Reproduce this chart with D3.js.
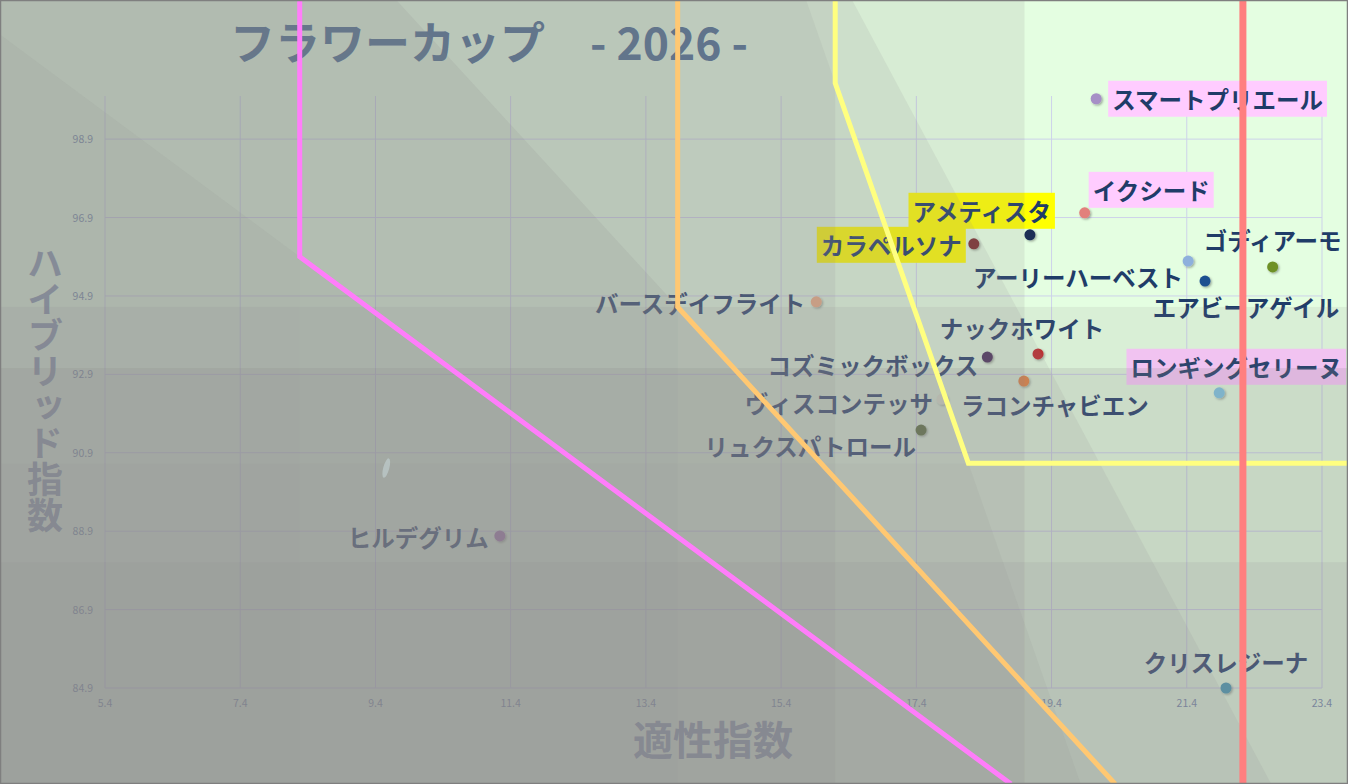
<html>
<head>
<meta charset="utf-8">
<script src="https://d3js.org/d3.v7.min.js"></script>
<style>
  body { margin: 0; background: #fff; }
  text { font-family: "Noto Sans CJK JP", "Noto Sans", sans-serif; }
</style>
</head>
<body>
<svg id="chart" width="1348" height="784"></svg>
<script>
// ---- data ----
const names = ["スマートプリエール","イクシード","アメティスタ","カラペルソナ","アーリーハーベスト",
  "エアビーアゲイル","ゴディアーモ","バースデイフライト","ナックホワイト","コズミックボックス",
  "ラコンチャビエン","ロンギングセリーヌ","ヴィスコンテッサ","リュクスパトロール","ヒルデグリム","クリスレジーナ"];
const tekisei = [20.06,19.89,19.08,18.25,21.42,21.67,22.67,15.92,19.20,18.45,18.99,21.88,17.78,17.47,11.24,21.98];
const hybrid  = [99.93,97.02,96.46,96.23,95.79,95.28,95.64,94.75,93.42,93.34,92.73,92.43,92.27,91.48,88.78,84.90];
const pointColors = ["#a68fc6","#e2807c","#1a2d55","#7b2a2a","#8eb0dc","#1f5090","#6e9125","#f4b183",
  "#c02a2a","#442c56","#f08030","#7cc7e3","#e6f0d6","#4f6c2f","#a070b0","#3f98b1"];
// label placement
const labelPos = ["right","aboveRight","aboveLeft","left","belowLeft","below","above","left",
  "above","left","below","above","left","belowLeft","left","above"];
const labelBg = ["#ffccff","#ffccff","#ffff00","#ffff00",null,null,null,null,null,null,null,"#ffccff",null,null,null,null];

const xTicks = [5.4,7.4,9.4,11.4,13.4,15.4,17.4,19.4,21.4,23.4];
const yTicks = [84.9,86.9,88.9,90.9,92.9,94.9,96.9,98.9];

// boundary lines (適性, ハイブリッド)
const pinkLine   = [[8.28,103],[8.28,95.9],[18.8,82.45]];
const orangeLine = [[13.87,103],[13.87,94.62],[20.34,82.45]];
const yellowLine = [[16.2,103],[16.2,100.33],[18.17,90.63],[25,90.63]];
const redLine    = [[22.23,103],[22.23,82]];

// grey veil bands
const vBands = [19.0,16.2,13.87,8.28];
const vAlpha = [0.15,0.12,0.06,0.04];
const hBands = [94.62,93.06,90.63,88.11];
const hAlpha = [0.12,0.18,0.06,0.12];
const diagBands = [[[16.45,102.45],[22.65,82.45]], [[13.87,94.62],[20.34,82.45]], [[16.2,100.33],[18.17,90.63]], [[8.28,95.9],[18.8,82.45]]];
const diagAlpha = [0.12,0.14,0.1,0.1];

const strayMark = [[9.56,90.51]];

// ---- chart ----
const W = 1348, H = 784;
const svg = d3.select("#chart");
const x = d3.scaleLinear().domain([5.4,23.4]).range([105,1322]);
const y = d3.scaleLinear().domain([84.9,100.0]).range([688,96]);

svg.append("rect").attr("width",W).attr("height",H).attr("fill","#e4fee1");

// title
svg.append("text").attr("x",230).attr("y",60).attr("font-size",45).attr("font-weight","bold")
  .attr("fill","#456a90").attr("textLength",315).attr("lengthAdjust","spacingAndGlyphs").text("フラワーカップ");
svg.append("text").attr("x",590).attr("y",60).attr("font-size",45).attr("font-weight","bold")
  .attr("fill","#456a90").attr("textLength",158).attr("lengthAdjust","spacingAndGlyphs").text("- 2026 -");

// grid
const grid = svg.append("g").attr("stroke","#cdd2ea").attr("stroke-width",1);
grid.selectAll(".vx").data(xTicks).join("line")
  .attr("x1",d=>x(d)).attr("x2",d=>x(d)).attr("y1",y(100.0)).attr("y2",y(84.9));
grid.selectAll(".hy").data(yTicks).join("line")
  .attr("x1",x(5.4)).attr("x2",x(23.4)).attr("y1",d=>y(d)).attr("y2",d=>y(d));

// tick labels
svg.append("g").selectAll("text").data(xTicks).join("text")
  .attr("x",d=>x(d)).attr("y",y(84.9)+19).attr("text-anchor","middle")
  .attr("font-size",10.5).attr("fill","#7088aa").text(d=>d.toFixed(1));
svg.append("g").selectAll("text").data(yTicks).join("text")
  .attr("x",x(5.4)-12).attr("y",d=>y(d)+4).attr("text-anchor","end")
  .attr("font-size",10.5).attr("fill","#7088aa").text(d=>d.toFixed(1));

// axis titles
svg.append("text").attr("x",713).attr("y",755).attr("text-anchor","middle")
  .attr("font-size",40).attr("font-weight","bold").attr("fill","#8497b0").text("適性指数");
svg.append("text").attr("x",45).attr("y",245).attr("writing-mode","tb")
  .attr("font-size",36).attr("font-weight","bold").attr("fill","#8497b0")
  .style("text-orientation","upright").text("ハイブリッド指数");

// points
const pts = names.map((n,i)=>({name:n, tx:tekisei[i], hy:hybrid[i], c:pointColors[i], pos:labelPos[i], bg:labelBg[i]}));
const defs = svg.append("defs");
const f = defs.append("filter").attr("id","sh").attr("x","-50%").attr("y","-50%").attr("width","200%").attr("height","200%");
f.append("feDropShadow").attr("dx",1.2).attr("dy",1.2).attr("stdDeviation",1).attr("flood-color","#000").attr("flood-opacity",0.35);

svg.append("g").selectAll("circle").data(pts).join("circle")
  .attr("cx",d=>x(d.tx)).attr("cy",d=>y(d.hy)).attr("r",5.5)
  .attr("fill",d=>d.c).attr("filter","url(#sh)");

// labels
const off = {
  right:      {dx:16, dy:0,  a:"start"},
  aboveRight: {dx:8,  dy:-23,a:"start"},
  aboveLeft:  {dx:21, dy:-24,a:"end"},
  left:       {dx:-11,dy:1,  a:"end"},
  belowLeft:  {dx:-5, dy:16, a:"end"},
  below:      {dx:41, dy:26, a:"middle"},
  above:      {dx:0,  dy:-26,a:"middle"}
};
const lblG = svg.append("g");
pts.forEach((d,i)=>{
  let o = off[d.pos];
  let dx = o.dx, dy = o.dy;
  if (d.name==="ナックホワイト") dx = -16;
  if (d.name==="ラコンチャビエン") { dx = 31; dy = 24; }
  if (d.name==="ロンギングセリーヌ") dx = 17;
  if (d.name==="コズミックボックス") { dx = -9; dy = 8; }
  if (d.name==="ヴィスコンテッサ") { dx = -9; dy = 4; }
  if (d.name==="カラペルソナ") { dx = -12; dy = 1; }
  if (d.name==="ゴディアーモ") dy = -27;
  const t = lblG.append("text")
    .attr("x",x(d.tx)+dx).attr("y",y(d.hy)+dy)
    .attr("dominant-baseline","central").attr("text-anchor",o.a)
    .attr("font-size",23.5).attr("font-weight","bold").attr("fill","#1f3c68").text(d.name);
  if (d.bg) {
    const b = t.node().getBBox();
    lblG.insert("rect","text").attr("x",b.x-4).attr("y",b.y-1).attr("width",b.width+8).attr("height",b.height+2).attr("fill",d.bg);
  }
});

// grey veil
const veil = svg.append("g").attr("fill","#8a868a");
vBands.forEach((v,i)=>{
  veil.append("rect").attr("x",0).attr("y",0).attr("width",x(v)).attr("height",H).attr("fill-opacity",vAlpha[i]);
});
hBands.forEach((h,i)=>{
  veil.append("rect").attr("x",0).attr("y",y(h)).attr("width",W).attr("height",H-y(h)).attr("fill-opacity",hAlpha[i]);
});
diagBands.forEach((s,i)=>{
  const [p,q] = s.map(a=>[x(a[0]),y(a[1])]);
  const k = (q[0]-p[0])/(q[1]-p[1]);
  const xt = p[0] - p[1]*k, xb = p[0] + (H-p[1])*k;
  veil.append("path").attr("d",d3.line()([[0,0],[xt,0],[xb,H],[0,H]])).attr("fill-opacity",diagAlpha[i]);
});

svg.selectAll(".stray").data(strayMark).join("ellipse")
  .attr("cx",d=>x(d[0])).attr("cy",d=>y(d[1])).attr("rx",3).attr("ry",10)
  .attr("transform",d=>`rotate(15,${x(d[0])},${y(d[1])})`).attr("fill","#bcc8c8").attr("opacity",0.8);

// boundary lines
const line = d3.line().x(d=>x(d[0])).y(d=>y(d[1]));
[[pinkLine,"#ff7dfa",5],[orangeLine,"#ffc872",5],[yellowLine,"#ffff80",5],[redLine,"#ff7f7f",7]].forEach(([pts2,c,w])=>{
  svg.append("path").attr("d",line(pts2)).attr("fill","none").attr("stroke",c).attr("stroke-width",w);
});

svg.append("rect").attr("x",0.5).attr("y",0.5).attr("width",W-1).attr("height",H-1)
  .attr("fill","none").attr("stroke","#7f7f7f").attr("stroke-width",1.5);
</script>
</body>
</html>
